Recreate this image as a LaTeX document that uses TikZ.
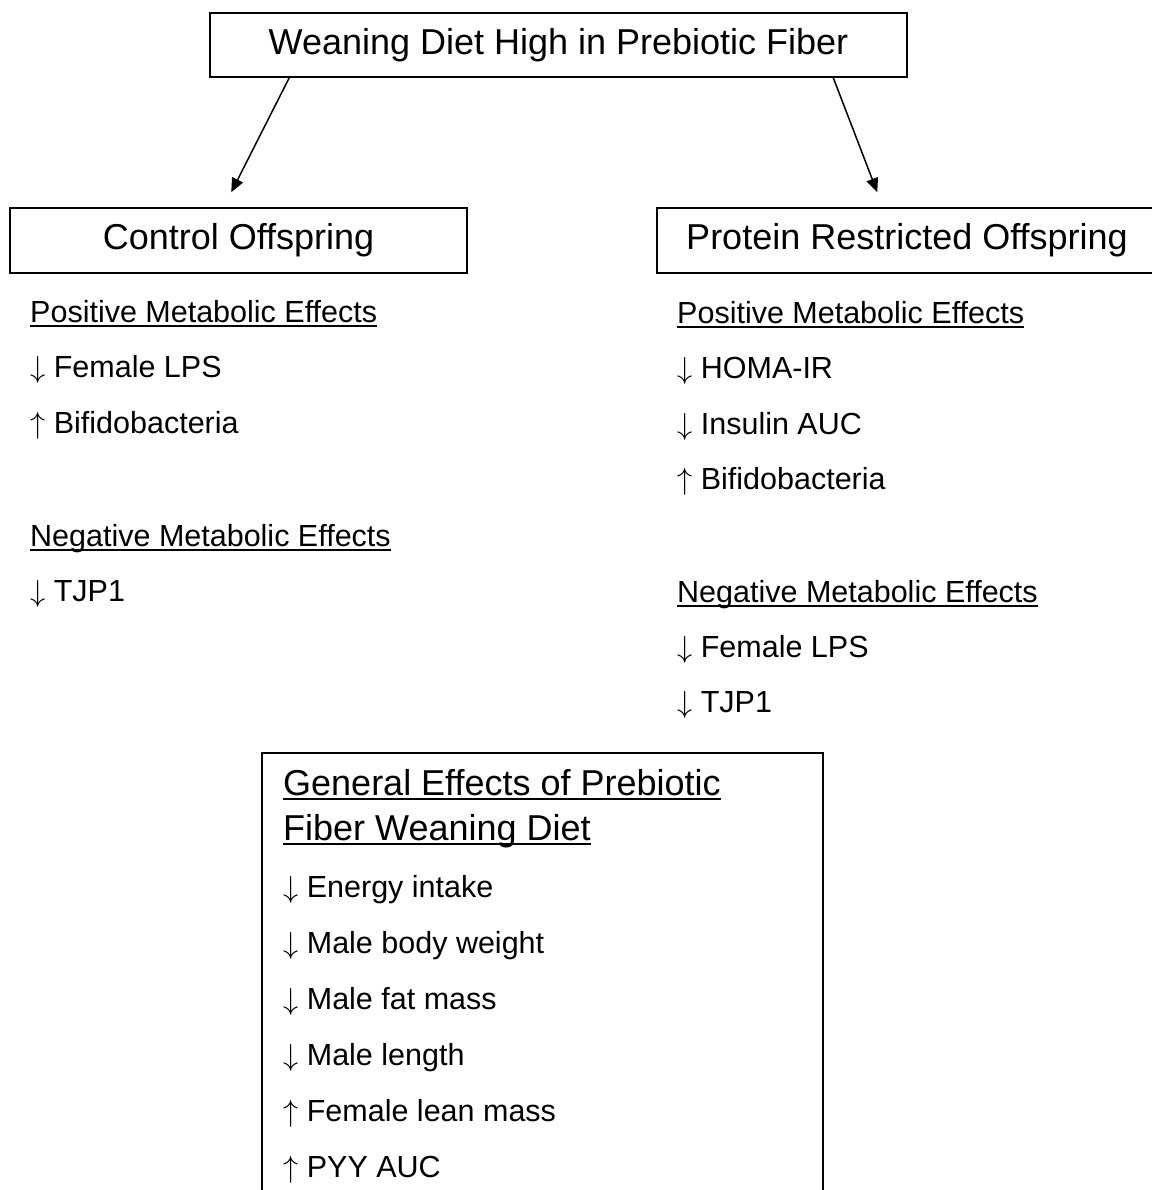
\documentclass[tikz,border=0pt]{standalone}
\usepackage{fontspec}
\setmainfont{Liberation Sans}[RawFeature={-liga}]
\usetikzlibrary{arrows.meta}

\newcommand{\ulbar}[1]{\setbox0=\hbox{#1}\rlap{\rule[-0.15em]{\wd0}{0.065em}}\box0}
\newcommand{\dn}{\scalebox{1.22}{$\downarrow$}}
\newcommand{\upp}{\scalebox{1.22}{$\uparrow$}}

\begin{document}
\begin{tikzpicture}[x=1pt,y=-1pt,->,>={Triangle[length=14pt,width=12pt]},
            box/.style={draw,line width=1.5pt,inner sep=0pt,
                font=\fontsize{36}{40}\selectfont},
            item/.style={anchor=base west,inner sep=0pt,
                font=\fontsize{30.5}{34}\selectfont},
            gentitle/.style={anchor=base west,inner sep=0pt,
                font=\fontsize{36}{40}\selectfont}]
            \useasboundingbox (0,0) rectangle (1151,1190);

            \node[box,minimum width=697pt,minimum height=64pt] (diet) at (558.5,45) {Weaning Diet High in Prebiotic Fiber};
            \node[box,minimum width=457pt,minimum height=65pt] (ctrl) at (238.5,240.5) {Control Offspring};
            \node[box,minimum width=500pt,minimum height=65pt] (prot) at (907,240.5) {Protein Restricted Offspring};

            \draw[line width=1.5pt] ([xshift=80pt]diet.south west) -- ([xshift=222pt,yshift=15pt]ctrl.north west);
            \draw[line width=1.5pt] ([xshift=624pt]diet.south west) -- ([xshift=221pt,yshift=15pt]prot.north west);

            % control offspring
            \node[item] (cpos) at (30,322) {\ulbar{Positive Metabolic Effects}};
            \node[item] (c1) at (30,377) {\dn\ Female LPS};
            \node[item] (c2) at (30,433) {\upp\ Bifidobacteria};
            \node[item] (cneg) at (30,546) {\ulbar{Negative Metabolic Effects}};
            \node[item] (c3) at (30,601) {\dn\ TJP1};

            % protein restricted offspring
            \node[item] (ppos) at (677,323) {\ulbar{Positive Metabolic Effects}};
            \node[item] (p1) at (677,378.5) {\dn\ HOMA-IR};
            \node[item] (p2) at (677,434) {\dn\ Insulin AUC};
            \node[item] (p3) at (677,489.5) {\upp\ Bifidobacteria};
            \node[item] (pneg) at (677,602) {\ulbar{Negative Metabolic Effects}};
            \node[item] (p4) at (677,657) {\dn\ Female LPS};
            \node[item] (p5) at (677,712) {\dn\ TJP1};

            % general effects
            \node[draw,-,line width=1.5pt,anchor=north west,minimum width=561pt,minimum height=480pt] (gen) at (261,752) {};
            \node[gentitle] (g1) at (283,795) {\ulbar{General Effects of Prebiotic}};
            \node[gentitle] (g2) at (283,840) {\ulbar{Fiber Weaning Diet}};
            \node[item] (e1) at (283,897) {\dn\ Energy intake};
            \node[item] (e2) at (283,953) {\dn\ Male body weight};
            \node[item] (e3) at (283,1009) {\dn\ Male fat mass};
            \node[item] (e4) at (283,1065) {\dn\ Male length};
            \node[item] (e5) at (283,1121) {\upp\ Female lean mass};
            \node[item] (e6) at (283,1177) {\upp\ PYY AUC};
        \end{tikzpicture}
\end{document}
